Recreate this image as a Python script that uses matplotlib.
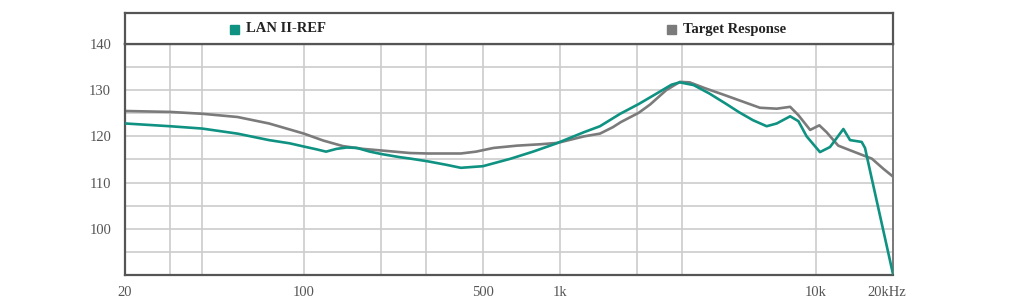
import matplotlib
matplotlib.use("Agg")
import matplotlib.pyplot as plt
import matplotlib.patches as mpatches
import matplotlib.transforms as mtransforms
from matplotlib.ticker import FixedLocator, FixedFormatter, NullLocator

# Frequency response data (Hz, dB)
lan_freq = [20, 30, 40, 55, 73, 88, 100, 112, 122, 134, 147, 161, 181, 200,
            237, 260, 305, 360, 410, 500, 640, 785, 960, 1240, 1433, 1720,
            2030, 2390, 2730, 2940, 3330, 3830, 4440, 5020, 5680, 6420, 7030,
            7930, 8540, 9200, 10370, 11350, 12800, 13590, 15090, 15550, 16260,
            20000]
lan_db = [122.8, 122.2, 121.7, 120.6, 119.2, 118.5, 117.8, 117.2, 116.7, 117.3,
          117.6, 117.5, 116.7, 116.2, 115.5, 115.2, 114.6, 113.85, 113.2, 113.55,
          115.15, 116.7, 118.4, 120.9, 122.2, 124.9, 127.0, 129.3, 131.2, 131.7,
          131.1, 129.3, 127.1, 125.2, 123.5, 122.2, 122.8, 124.35, 123.3, 120.0,
          116.6, 117.7, 121.6, 119.2, 118.8, 117.5, 112.6, 90.2]

tgt_freq = [20, 30, 40, 55, 73, 88, 100, 119, 142, 170, 200, 260, 305, 410,
            470, 550, 680, 840, 980, 1240, 1433, 1610, 1730, 2030, 2250, 2600,
            2940, 3210, 3700, 4370, 5020, 6040, 7030, 7930, 8540, 9490, 10310,
            11010, 12220, 13590, 15290, 16520, 18330, 20000]
tgt_db = [125.5, 125.3, 124.9, 124.2, 122.8, 121.5, 120.6, 119.1, 117.9, 117.3,
          116.96, 116.4, 116.3, 116.3, 116.7, 117.5, 118.0, 118.3, 118.6, 120.0,
          120.6, 122.0, 123.1, 125.1, 126.9, 130.0, 131.8, 131.7, 130.4, 129.0,
          127.8, 126.2, 126.0, 126.4, 124.6, 121.4, 122.4, 120.9, 118.0, 117.0,
          115.9, 115.2, 113.0, 111.3]

grid_freqs = [30, 40, 100, 200, 300, 500, 1000, 2000, 3000, 10000]
xtick_vals = [20, 100, 500, 1000, 10000, 20000]
xtick_text = ["20", "100", "500", "1k", "10k", "20kHz"]
ytick_vals = [100, 110, 120, 130, 140]

TEAL = "#0f9282"
GRAY = "#7c7b7c"
FRAME = "#555555"
GRID = "#cccccc"
SERIF = ["Liberation Serif", "DejaVu Serif"]

fig = plt.figure(figsize=(10.2, 3.0), dpi=100)
ax = fig.add_axes([125 / 1020, 25 / 300, 768 / 1020, 231 / 300])

ax.set_xscale("log")
ax.set_xlim(20, 20000)
ax.set_ylim(90, 140)

# grid
for f in grid_freqs:
    ax.axvline(f, color=GRID, lw=1.2, zorder=0)
for y in range(95, 140, 5):
    ax.axhline(y, color=GRID, lw=1.2, zorder=0)

ax.plot(tgt_freq, tgt_db, color=GRAY, lw=1.9, zorder=2,
        solid_joinstyle="round", solid_capstyle="round")
ax.plot(lan_freq, lan_db, color=TEAL, lw=1.9, zorder=3,
        solid_joinstyle="round", solid_capstyle="round")

ax.xaxis.set_major_locator(FixedLocator(xtick_vals))
ax.xaxis.set_major_formatter(FixedFormatter(xtick_text))
ax.xaxis.set_minor_locator(NullLocator())
ax.set_yticks(ytick_vals)
ax.tick_params(length=0, labelsize=10.5, colors="#555555", pad=10)
ax.tick_params(axis="x", pad=8)
for lbl in ax.get_xticklabels() + ax.get_yticklabels():
    lbl.set_fontfamily(SERIF)
# nudge the last label left a bit, as in the original
last = ax.get_xticklabels()[-1]
last.set_transform(last.get_transform()
                   + mtransforms.ScaledTranslation(-6 / 100, 0, fig.dpi_scale_trans))

for side in ("left", "bottom", "top"):
    ax.spines[side].set_color(FRAME)
    ax.spines[side].set_linewidth(1.6)
ax.spines["right"].set_color("#777777")
ax.spines["right"].set_linewidth(1.4)

# header strip with legend
hx = fig.add_axes([125 / 1020, 256 / 300, 768 / 1020, 31 / 300])
hx.set_xlim(0, 768)
hx.set_ylim(0, 31)
hx.set_xticks([])
hx.set_yticks([])
for s in hx.spines.values():
    s.set_color(FRAME)
    s.set_linewidth(1.6)

legend_items = [("LAN II-REF", TEAL, 105), ("Target Response", GRAY, 542)]
for name, col, x0 in legend_items:
    hx.add_patch(mpatches.Rectangle((x0, 10), 9, 9, color=col))
    hx.text(x0 + 16, 15, name, fontsize=10.5, fontweight="bold",
            family=SERIF, color="#222222", va="center", ha="left")

fig.savefig("out.png", dpi=100)
